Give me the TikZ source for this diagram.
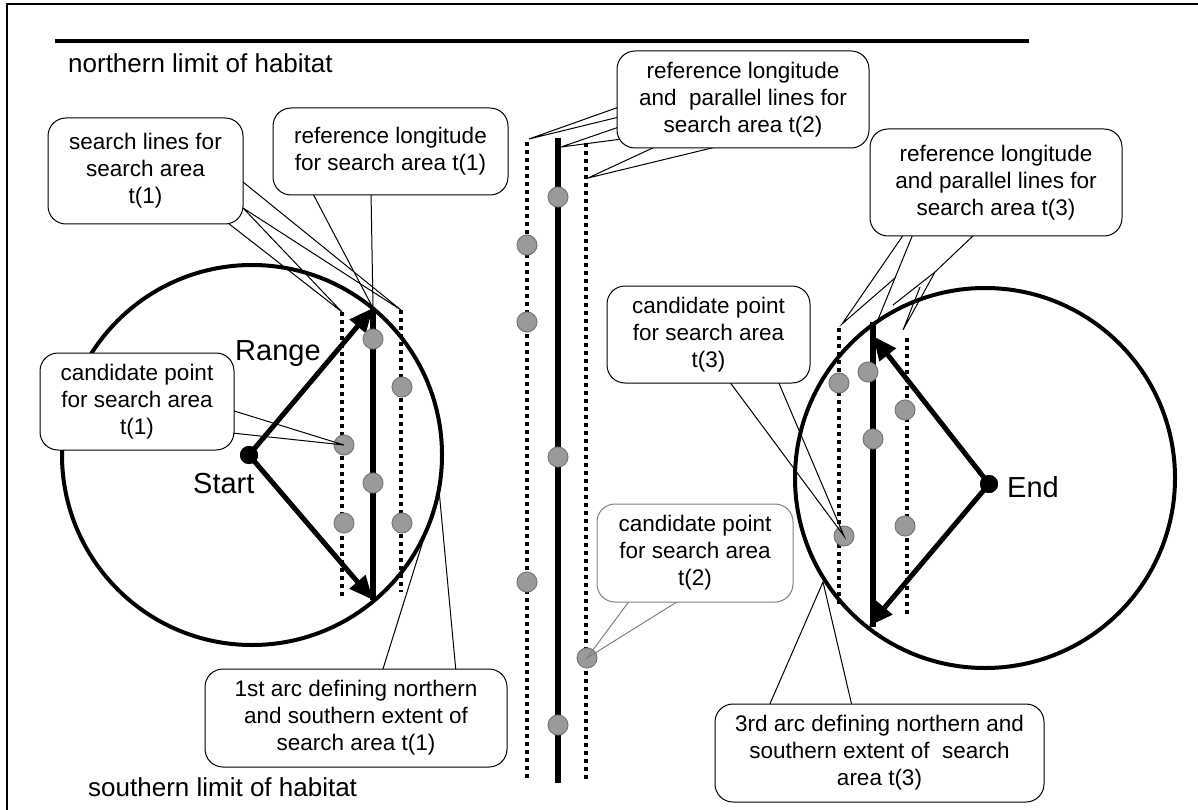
\documentclass[tikz,border=0pt]{standalone}
\usepackage{fontspec}
\setmainfont{Liberation Sans}
\usetikzlibrary{arrows.meta}
\definecolor{dotfill}{HTML}{9A9A9A}
\definecolor{dotedge}{HTML}{777777}
\definecolor{boxgray}{HTML}{808080}
\begin{document}
\begin{tikzpicture}[x=1pt,y=-1pt,
  callbox/.style={draw=black, line width=1pt, fill=white, rounded corners=18pt,
    align=center, inner sep=0pt, font=\fontsize{22.5}{27}\selectfont},
  graybox/.style={callbox, draw=boxgray},
  ptr/.style={line width=1pt, line join=miter},
  grayptr/.style={ptr, draw=boxgray},
  gdot/.style={circle, fill=dotfill, draw=dotedge, line width=1pt, minimum size=20pt, inner sep=0pt},
  bdot/.style={circle, fill=black, minimum size=18pt, inner sep=0pt},
  srchline/.style={line width=4pt, dash pattern=on 4pt off 4pt},
  refline/.style={line width=6pt},
  rangearrow/.style={line width=5pt, -{Triangle[length=24pt,width=20pt]}},
  arcline/.style={line width=4pt},
  biglabel/.style={font=\fontsize{26}{30}\selectfont, inner sep=0pt},
  ptlabel/.style={font=\fontsize{29}{33}\selectfont, inner sep=0pt}
]
\useasboundingbox (0,0) rectangle (1198,810);
\clip (0,0) rectangle (1198,810);

% frame and habitat limits
\draw[line width=2pt] (7,830) -- (7,4) -- (1220,4);
\coordinate (nl1) at (55,41);
\coordinate (nl2) at (1029,41);
\draw[line width=4pt] (nl1) -- (nl2);
\node[biglabel, anchor=base west] (north) at (68,73) {northern limit of habitat};
\node[biglabel, anchor=base west] (south) at (88,796) {southern limit of habitat};

% ---------- left search area t(1) ----------
\node[bdot] (start) at (249,455) {};
\draw[arcline] (252,455) circle[radius=190pt];
\coordinate (l1t) at (342,312); \coordinate (l1b) at (342,596);
\coordinate (r1t) at (373,308); \coordinate (r1b) at (373,600);
\coordinate (q1t) at (401,310); \coordinate (q1b) at (401,592);
\draw[srchline] (l1t) -- (l1b);
\draw[srchline] (q1t) -- (q1b);
\draw[refline] (r1t) -- (r1b);
\draw[rangearrow] (start.center) -- (r1t);
\draw[rangearrow] (start.center) -- (r1b);
\node[bdot] at (start) {};
\node[gdot] (p11) at (373,339) {};
\node[gdot] (p12) at (402,387) {};
\node[gdot] (p13) at (344,445) {};
\node[gdot] (p14) at (373,483) {};
\node[gdot] (p15) at (344,523) {};
\node[gdot] (p16) at (402,523) {};
\node[ptlabel, anchor=base west] (range) at (235,360) {Range};
\node[ptlabel, anchor=base west] (startlbl) at (193,493) {Start};

% ---------- middle search area t(2) ----------
\coordinate (l2t) at (527,142); \coordinate (l2b) at (527,780);
\coordinate (r2t) at (558,138); \coordinate (r2b) at (558,783);
\coordinate (q2t) at (586,143); \coordinate (q2b) at (586,780);
\draw[srchline] (l2t) -- (l2b);
\draw[srchline] (q2t) -- (q2b);
\draw[refline] (r2t) -- (r2b);
\node[gdot] (p21) at (558,197) {};
\node[gdot] (p22) at (527,245) {};
\node[gdot] (p23) at (527,322) {};
\node[gdot] (p24) at (558,457) {};
\node[gdot] (p25) at (527,582) {};
\node[gdot] (p26) at (587,658) {};
\node[gdot] (p27) at (558,725) {};

% ---------- right search area t(3) ----------
\node[bdot] (end) at (989,484) {};
\draw[arcline] (985,478) circle[radius=190pt];
\coordinate (l3t) at (839,328); \coordinate (l3b) at (839,604);
\coordinate (r3t) at (873,322); \coordinate (r3b) at (873,627);
\coordinate (q3t) at (907,338); \coordinate (q3b) at (907,614);
\coordinate (a3t) at (873,336); \coordinate (a3b) at (869,626);
\draw[srchline] (l3t) -- (l3b);
\draw[srchline] (q3t) -- (q3b);
\draw[refline] (r3t) -- (r3b);
\draw[rangearrow] (end.center) -- (a3t);
\draw[rangearrow] (end.center) -- (a3b);
\node[bdot] at (end) {};
\node[gdot] (p31) at (868,372) {};
\node[gdot] (p32) at (839,383) {};
\node[gdot] (p33) at (905,410) {};
\node[gdot] (p34) at (873,439) {};
\node[gdot] (p35) at (844,536) {};
\node[gdot] (p36) at (905,526) {};
\node[ptlabel, anchor=base west] (endlbl) at (1007,497) {End};

% ---------- callout pointers ----------
% A: search lines t(1)
\coordinate (a1) at (243,182); \coordinate (a2) at (243,208); \coordinate (a3) at (228,223);
\draw[ptr] (a1) -- (q1t) -- (a2) -- (l1t) -- (a3);
% B: reference longitude t(1)
\coordinate (b1) at (312,192); \coordinate (b2) at (371,192);
\draw[ptr] (b1) -- (r1t) -- (b2);
% C: candidate point t(1)
\coordinate (c1) at (231,410); \coordinate (c2) at (232,433);
\draw[ptr] (c1) -- (p13.center) -- (c2);
% D: 1st arc
\coordinate (d1) at (382,672); \coordinate (d2) at (456,672); \coordinate (dtip) at (439,490);
\draw[ptr] (d1) -- (dtip) -- (d2);
% E: reference longitude and parallel lines t(2)
\coordinate (e1) at (619,107); \coordinate (e2) at (619,117);
\coordinate (e3) at (619,127); \coordinate (e4) at (622,139);
\coordinate (e5) at (657,146); \coordinate (e6) at (720,146);
\coordinate (etip1) at (529,139); \coordinate (etip2) at (561,147); \coordinate (etip3) at (588,178);
\draw[ptr] (e1) -- (etip1) -- (e2);
\draw[ptr] (e3) -- (etip2) -- (e4);
\draw[ptr] (e5) -- (etip3) -- (e6);
% F: reference longitude and parallel lines t(3)
\coordinate (f1) at (904,234); \coordinate (f2) at (913,234);
\coordinate (fmid) at (895,278); \coordinate (ftipa) at (842,324); \coordinate (ftipb) at (877,322);
\coordinate (f3) at (975,234); \coordinate (fknee) at (935,272);
\coordinate (ftipc) at (903,330); \coordinate (ftipd) at (893,305); \coordinate (fj) at (920,287);
\draw[ptr] (f1) -- (ftipa) -- (fmid);
\draw[ptr] (f2) -- (ftipb);
\draw[ptr] (f3) -- (fknee) -- (ftipc) -- (fj);
\draw[ptr] (fknee) -- (ftipd);
% G: candidate point t(3)
\coordinate (g1) at (729,381); \coordinate (g2) at (778,381);
\draw[ptr] (g1) -- (p35.center) -- (g2);
% H: candidate point t(2)
\coordinate (h1) at (630,600); \coordinate (h2) at (680,600);
\draw[grayptr] (h1) -- (p26.center) -- (h2);
% I: 3rd arc
\coordinate (i1) at (769,706); \coordinate (i2) at (852,706); \coordinate (itip) at (823,582);
\draw[ptr] (i1) -- (itip) -- (i2);

% ---------- callout boxes ----------
\node[callbox, minimum width=195pt, minimum height=106pt] (boxA) at (145.5,171)
  {search lines for\\search area\\t(1)};
\node[callbox, minimum width=235pt, minimum height=87pt] (boxB) at (390.5,151.5)
  {reference longitude\\for search area t(1)};
\node[callbox, minimum width=194pt, minimum height=97pt] (boxC) at (137,401.5)
  {candidate point\\for search area\\t(1)};
\node[callbox, minimum width=302pt, minimum height=98pt] (boxD) at (356,718)
  {1st arc defining northern\\and southern extent of\\search area t(1)};
\node[callbox, minimum width=252pt, minimum height=97pt] (boxE) at (743,99.5)
  {reference longitude\\and~ parallel lines for\\search area t(2)};
\node[callbox, minimum width=252pt, minimum height=107pt] (boxF) at (996,182.5)
  {reference longitude\\and parallel lines for\\search area t(3)};
\node[callbox, minimum width=203pt, minimum height=97pt] (boxG) at (708.5,334.5)
  {candidate point\\for search area\\t(3)};
\node[graybox, minimum width=196pt, minimum height=98pt] (boxH) at (695,553)
  {candidate point\\for search area\\t(2)};
\node[callbox, minimum width=329pt, minimum height=98pt] (boxI) at (879.5,753)
  {3rd arc defining northern and\\southern extent of~ search\\area t(3)};
\end{tikzpicture}
\end{document}
